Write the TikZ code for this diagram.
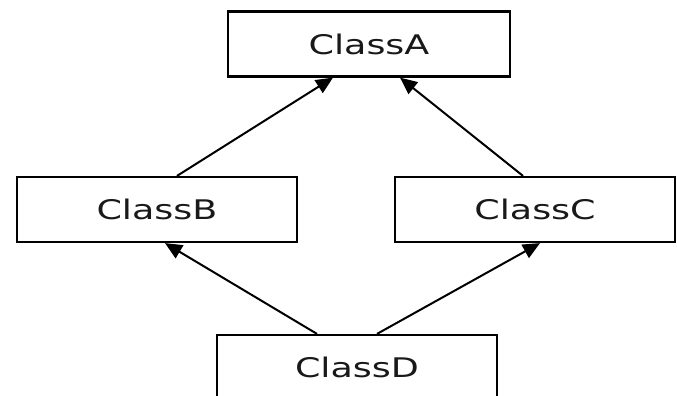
\documentclass[tikz,border=0pt]{standalone}
\usepackage{graphicx}
\usepackage{fontspec}
\setsansfont{DejaVu Sans}
\usepackage{tikz}
\usetikzlibrary{arrows.meta,positioning}
\newcommand{\widetxt}[1]{\scalebox{1.35}[1]{#1}}

\begin{document}
\begin{tikzpicture}[x=1pt,y=-1pt,
  cbox/.style={rectangle,draw=black,line width=2.2pt,
    minimum width=280pt,minimum height=65pt,inner sep=0pt,
    font=\fontsize{27}{30}\selectfont\sffamily,text=black!90},
  arr/.style={-{Triangle[length=17pt,width=15pt]},line width=2pt}
]
\useasboundingbox (0,0) rectangle (677,396);
\clip (0,0) rectangle (677,396);

\node[cbox,minimum width=282pt] (A) at (369,44) {\widetxt{ClassA}};
\node[cbox] (B) at (157,209.5) {\widetxt{ClassB}};
\node[cbox] (C) at (535,209.5) {\widetxt{ClassC}};
\node[cbox] (D) at (357,367.5) {\widetxt{ClassD}};

\draw[arr]([xshift=20pt]B.north)--([xshift=-36pt]A.south);
\draw[arr]([xshift=-12pt]C.north)--([xshift=31pt]A.south);
\draw[arr]([xshift=-40pt]D.north)--([xshift=8pt]B.south);
\draw[arr]([xshift=20pt]D.north)--([xshift=5pt]C.south);
\end{tikzpicture}
\end{document}
